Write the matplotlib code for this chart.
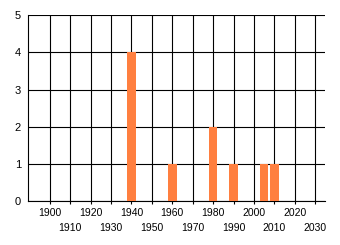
import matplotlib
matplotlib.use("Agg")
import matplotlib.pyplot as plt
from matplotlib.ticker import FixedLocator

years = [1940, 1960, 1980, 1990, 2005, 2010]
counts = [4, 1, 2, 1, 1, 1]
major_ticks = [1900, 1920, 1940, 1960, 1980, 2000, 2020]
minor_ticks = [1910, 1930, 1950, 1970, 1990, 2010, 2030]
y_ticks = [0, 1, 2, 3, 4, 5]

plt.rcParams['font.family'] = ['Liberation Sans', 'DejaVu Sans']

fig = plt.figure(figsize=(3.4, 2.45), dpi=100)
ax = fig.add_axes([28/340, 44/245, (325.3-28)/340, (201-15.3)/245])

ax.bar(years, counts, width=4.2, color='#FF7F3F', zorder=3)

ax.set_xlim(1889.4, 2034.9)
ax.set_ylim(0, 5)

ax.xaxis.set_major_locator(FixedLocator(major_ticks))
ax.xaxis.set_minor_locator(FixedLocator(minor_ticks))
ax.set_xticklabels([str(t) for t in major_ticks])
ax.set_xticklabels([str(t) for t in minor_ticks], minor=True)
ax.set_yticks(y_ticks)

ax.tick_params(axis='x', which='major', length=2.5, width=0.8, pad=2.5, labelsize=7.5, color='black')
ax.tick_params(axis='x', which='minor', length=2.5, width=0.8, pad=13.5, labelsize=7.5, color='black')
ax.tick_params(axis='y', length=0, pad=5, labelsize=8)

ax.grid(True, which='both', axis='x', color='black', linewidth=0.8, zorder=1)
ax.grid(True, which='major', axis='y', color='black', linewidth=0.8, zorder=1)
ax.set_axisbelow(True)

for s in ['top', 'right']:
    ax.spines[s].set_visible(False)
for s in ['left', 'bottom']:
    ax.spines[s].set_linewidth(0.8)
    ax.spines[s].set_color('black')

fig.savefig('out.png', dpi=100)
